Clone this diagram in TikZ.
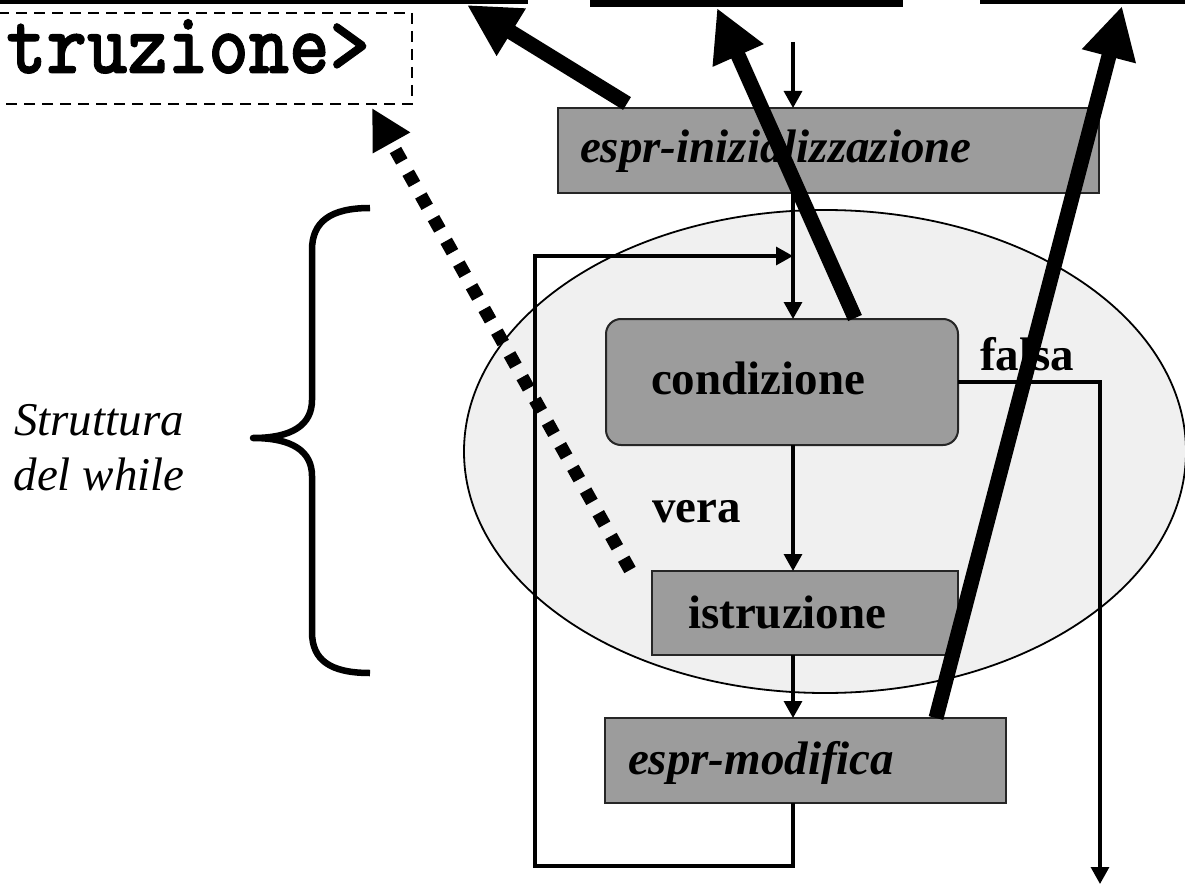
\documentclass[tikz,border=0pt]{standalone}
\usepackage{fontspec}
\setmainfont{Liberation Serif}
\newfontfamily\courb[FakeBold=1.1]{lmmonolt10-bold.otf}
\usetikzlibrary{arrows.meta}
\definecolor{boxgray}{HTML}{9C9C9C}
\definecolor{ellfill}{HTML}{F0F0F0}
\begin{document}
\begin{tikzpicture}[x=1pt,y=-1pt,
  every node/.style={inner sep=0pt, outer sep=0pt},
  box/.style={draw=black!85, line width=2pt, fill=boxgray, anchor=north west},
  bar/.style={fill=black, anchor=north west},
  conn/.style={line width=3.2pt, -{Triangle[length=17pt,width=18pt]}},
  bigarrow/.style={line width=15pt, -{Triangle[length=52pt,width=52pt]}},
  dotarrow/.style={line width=13pt, dash pattern=on 13pt off 13pt, -{Triangle[length=40pt,width=40pt]}},
  lbl/.style={anchor=base west, font=\fontsize{47}{55}\selectfont\bfseries},
  ilbl/.style={anchor=base west, font=\fontsize{47}{55}\selectfont\bfseries\itshape},
  side/.style={anchor=base, font=\fontsize{47}{55}\selectfont\itshape},
  bracestyle/.style={line width=6.5pt, line join=round}
]
\useasboundingbox (0,0) rectangle (1185,885);
\fill[white] (0,0) rectangle (1185,885);

% structure ellipse
\draw[line width=1.8pt, fill=ellfill] (825,451.5) ellipse [x radius=361, y radius=241.5];

% bars of the boxes above (cut off)
\node[bar, minimum width=528, minimum height=4] (topL) at (0,0) {};
\node[bar, minimum width=313, minimum height=7] (topM) at (590,0) {};
\node[bar, minimum width=205, minimum height=4] (topR) at (980,0) {};

% dashed box with <istruzione>
\coordinate (dbTL) at (-2,13);
\coordinate (dbBR) at (412,104);
\draw[line width=2.5pt, dash pattern=on 11pt off 7pt] (dbTL) -| (dbBR) -- (dbBR -| dbTL);
\node[anchor=base east, font=\fontsize{77}{80}\selectfont\courb] (instr) at (370,73) {\scalebox{1}[1.15]{truzione>}};

% brace and its label
\draw[bracestyle] (370,208) .. controls (330,208) and (312,222) .. (312,250) -- (312,400)
  .. controls (312,425) and (292,438) .. (253,438)
  .. controls (292,438) and (312,451) .. (312,476) -- (312,632)
  .. controls (312,660) and (330,673) .. (370,673);
\node[side] (s1) at (99,435) {Struttura};
\node[side] (s2) at (99,490) {del while};

% boxes
\node[box, minimum width=541, minimum height=85] (init) at (558,108) {};
\node[box, minimum width=352, minimum height=126, rounded corners=15pt] (cond) at (606,319) {};
\node[box, minimum width=306, minimum height=84] (istr) at (652,571) {};
\node[box, minimum width=401, minimum height=85] (modif) at (605,718) {};

\node[ilbl] (tinit) at (580,163) {espr-inizializzazione};
\node[lbl] (tcond) at (651,394) {condizione};
\node[lbl] (tistr) at (688,628) {istruzione};
\node[ilbl] (tmod) at (628,774) {espr-modifica};

% flow connectors
\coordinate (col) at (793,0);
\coordinate (start) at (793,42);
\coordinate (loopB) at (535,866);
\coordinate (loopT) at (793,256);
\coordinate (exit) at (1100,884);
\draw[conn] (start) -- (init.north -| col);
\draw[conn] (init.south -| col) -- (cond.north -| col);
\draw[conn] (cond.south -| col) -- (istr.north -| col);
\draw[conn] (istr.south -| col) -- (modif.north -| col);
\draw[conn] (modif.south -| col) |- (loopB) |- (loopT);
\draw[conn] (cond.east) -| (exit);

\node[lbl] (vera) at (652,522) {vera};
\node[lbl] (falsa) at (980,370) {falsa};

% pointers to the code
\coordinate (dtip) at (372,108);
\coordinate (a1tip) at (467,5);
\coordinate (a2tip) at (717,8);
\coordinate (a3tip) at (1122,6);
\draw[dotarrow] ([xshift=-22pt,yshift=1pt]istr.north west) -- (dtip);
\draw[bigarrow] ([xshift=69pt,yshift=4.5pt]init.north west) -- (a1tip);
\draw[bigarrow] ([xshift=249pt,yshift=1pt]cond.north west) -- (a2tip);
\draw[bigarrow] ([xshift=331pt]modif.north west) -- (a3tip);
\end{tikzpicture}
\end{document}
